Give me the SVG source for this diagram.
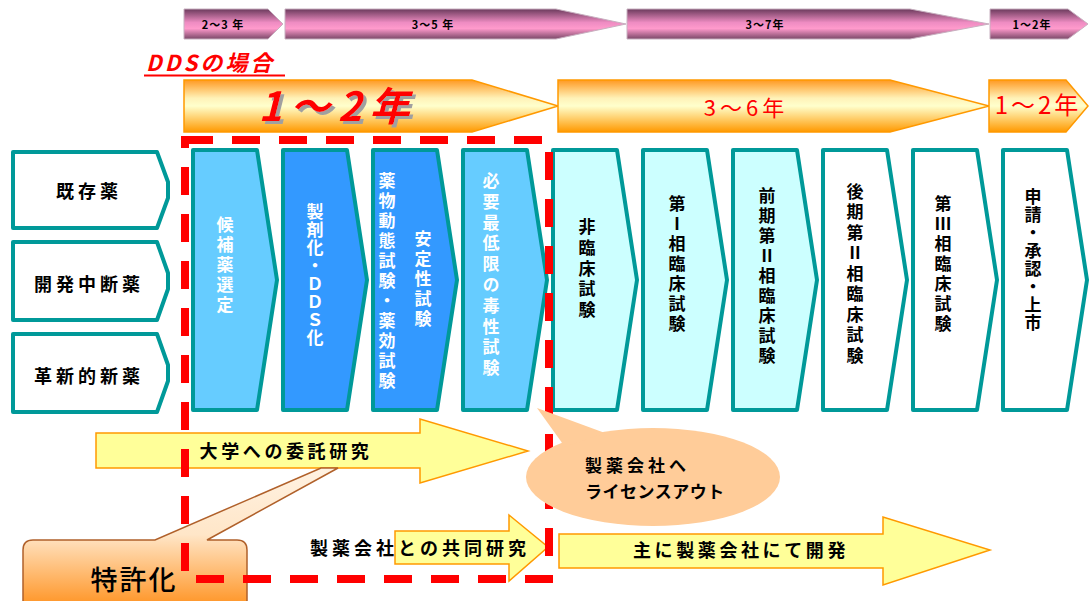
<svg xmlns="http://www.w3.org/2000/svg" width="1089" height="601" viewBox="0 0 1089 601">
<defs>
<linearGradient id="pink" x1="0" y1="0" x2="0" y2="1">
<stop offset="0" stop-color="#6B3A5C"/>
<stop offset="0.45" stop-color="#EE8CC2"/>
<stop offset="0.65" stop-color="#FF9ACC"/>
<stop offset="1" stop-color="#7A4868"/>
</linearGradient>
<linearGradient id="orange" x1="0" y1="0" x2="0" y2="1">
<stop offset="0" stop-color="#FF9922"/>
<stop offset="0.35" stop-color="#FFF2B8"/>
<stop offset="0.5" stop-color="#FFFFCC"/>
<stop offset="0.75" stop-color="#FFCC66"/>
<stop offset="1" stop-color="#FF9900"/>
</linearGradient>
<linearGradient id="callout" gradientUnits="userSpaceOnUse" x1="0" y1="468" x2="0" y2="601">
<stop offset="0" stop-color="#FFF2E2"/>
<stop offset="0.5" stop-color="#FFE6C8"/>
<stop offset="1" stop-color="#FF9A30"/>
</linearGradient>
<filter id="shadow" x="-10%" y="-20%" width="130%" height="150%">
<feDropShadow dx="3" dy="3" stdDeviation="0" flood-color="#A0A0A0" flood-opacity="1"/>
</filter>
</defs>
<style>
text{font-family:"Noto Sans CJK JP","Noto Sans CJK SC",sans-serif;}
.pk{fill:url(#pink);stroke:#c8b0c0;stroke-width:1}
.or{fill:url(#orange);stroke:#FF9900;stroke-width:1.5}
.lb{fill:#fff;stroke:#009999;stroke-width:4;stroke-linejoin:round}
.tb{stroke:#009999;stroke-width:4;stroke-linejoin:round}
.v{writing-mode:vertical-rl;text-orientation:upright;text-anchor:middle;font-size:17px;font-weight:bold}
.w{fill:#fff}
.k{fill:#000}
.ya{fill:#FFFF99;stroke:#FF9900;stroke-width:1.5}
.lbl{font-size:18px;font-weight:bold;fill:#000;text-anchor:middle;dominant-baseline:central}
.yr{font-size:11px;font-weight:bold;fill:#000;text-anchor:middle;dominant-baseline:central;letter-spacing:1px}
.red{fill:#FF0000;text-anchor:middle;dominant-baseline:central}
</style>

<g id="timeline-pink">
<polygon class="pk" points="184,9 268,9 283,24 268,39 184,39"/>
<polygon class="pk" points="285,9 556,9 626,24 556,39 285,39"/>
<polygon class="pk" points="627,9 910,9 989,24 910,39 627,39"/>
<polygon class="pk" points="990,9 1068,9 1088,24 1068,39 990,39"/>
<text class="yr" x="223" y="24">2～3 年</text>
<text class="yr" x="433" y="24">3～5 年</text>
<text class="yr" x="765" y="24">3～7年</text>
<text class="yr" x="1032" y="24">1～2年</text>
</g>

<g id="dds-label">
<text x="146" y="71" font-size="22" font-style="italic" font-weight="bold" fill="#FF0000" letter-spacing="3">DDSの場合</text>
<line x1="144" y1="75.5" x2="285" y2="75.5" stroke="#FF0000" stroke-width="2"/>
</g>

<g id="timeline-orange">
<polygon class="or" points="184,80 472,80 558,106 472,132 184,132"/>
<polygon class="or" points="558,80 890,80 989,106 890,132 558,132"/>
<polygon class="or" points="989,80 1066,80 1088,106 1066,132 989,132"/>
<text class="red" x="338" y="104" font-size="40" font-style="italic" font-weight="bold" letter-spacing="8" filter="url(#shadow)">1～2年</text>
<text class="red" x="746" y="106" font-size="22" letter-spacing="4">3～6年</text>
<text class="red" x="1038" y="103" font-size="24" letter-spacing="3">1～2年</text>
</g>

<g id="src-existing">
<polygon class="lb" points="13,152 157,152 168,182 168,198 157,228 13,228"/>
<text class="lbl" x="89" y="190" letter-spacing="4">既存薬</text>
</g>
<g id="src-suspended">
<polygon class="lb" points="13,242 157,242 168,273 168,289 157,320 13,320"/>
<text class="lbl" x="89" y="283" letter-spacing="4">開発中断薬</text>
</g>
<g id="src-innovative">
<polygon class="lb" points="13,334 157,334 168,365 168,381 157,412 13,412"/>
<text class="lbl" x="89" y="375" letter-spacing="4">革新的新薬</text>
</g>

<g id="step1">
<polygon class="tb" fill="#66CCFF" points="193,150 257,150 277,280 257,410 193,410"/>
<text class="v w" x="225" y="266" letter-spacing="3">候補薬選定</text>
</g>
<g id="step2">
<polygon class="tb" fill="#3399FF" points="283,150 347,150 367,280 347,410 283,410"/>
<text class="v w" x="315" y="275" letter-spacing="1">製剤化・ＤＤＳ化</text>
</g>
<g id="step3">
<polygon class="tb" fill="#3399FF" points="373,150 437,150 457,280 437,410 373,410"/>
<text class="v w" x="387" y="282" letter-spacing="3">薬物動態試験・薬効試験</text>
<text class="v w" x="423" y="280" letter-spacing="3">安定性試験</text>
</g>
<g id="step4">
<polygon class="tb" fill="#66CCFF" points="463,150 527,150 547,280 527,410 463,410"/>
<text class="v w" x="491" y="276" letter-spacing="3.8">必要最低限の毒性試験</text>
</g>
<g id="step5">
<polygon class="tb" fill="#CCFFFF" points="553,150 617,150 637,280 617,410 553,410"/>
<text class="v k" x="587" y="270" letter-spacing="3.8">非臨床試験</text>
</g>
<g id="step6">
<polygon class="tb" fill="#CCFFFF" points="643,150 707,150 727,280 707,410 643,410"/>
<text class="v k" x="677" y="265" letter-spacing="3">第Ⅰ相臨床試験</text>
</g>
<g id="step7">
<polygon class="tb" fill="#CCFFFF" points="733,150 797,150 817,280 797,410 733,410"/>
<text class="v k" x="767" y="277" letter-spacing="3">前期第Ⅱ相臨床試験</text>
</g>
<g id="step8">
<polygon class="tb" fill="#FFFFFF" points="823,150 887,150 907,280 887,410 823,410"/>
<text class="v k" x="855" y="275" letter-spacing="3.5">後期第Ⅱ相臨床試験</text>
</g>
<g id="step9">
<polygon class="tb" fill="#FFFFFF" points="913,150 977,150 997,280 977,410 913,410"/>
<text class="v k" x="943" y="265" letter-spacing="3">第Ⅲ相臨床試験</text>
</g>
<g id="step10">
<polygon class="tb" fill="#FFFFFF" points="1003,150 1067,150 1087,280 1067,410 1003,410"/>
<text class="v k" x="1033" y="260" letter-spacing="1">申請・承認・上市</text>
</g>

<g id="connectors">
<path class="ya" d="M96,433 H420 V419 L528,451 L420,483 V468 H96 Z"/>
<path class="ya" d="M395,531 H509 V515 L548,547 L509,581 V564 H395 Z"/>
<path class="ya" d="M559,534 H883 V517 L990,550 L883,585 V568 H559 Z"/>
</g>

<g id="patent-callout">
<path d="M33,540 H155 L321,468 L338,468 L207,540 H237 Q247,540 247,550 V612 H23 V550 Q23,540 33,540 Z" fill="url(#callout)" stroke="#B0602A" stroke-width="1.5"/>
<text x="134" y="578" font-size="27" font-weight="500" fill="#000" text-anchor="middle" dominant-baseline="central" letter-spacing="2">特許化</text>
</g>

<g id="dds-scope">
<path d="M185,140 H549 V579 H185 Z" fill="none" stroke="#FF0000" stroke-width="8" stroke-dasharray="28 19"/>
</g>

<g id="license-callout">
<ellipse cx="653" cy="477" rx="127" ry="49" fill="#FFCC99"/>
<polygon points="537,408 605,433 565,447" fill="#FFCC99"/>
<text x="585" y="464" font-size="17" font-weight="bold" fill="#000" dominant-baseline="central" letter-spacing="4">製薬会社へ</text>
<text x="585" y="490" font-size="17" font-weight="bold" fill="#000" dominant-baseline="central" letter-spacing="0.5">ライセンスアウト</text>
</g>

<g id="arrow-labels">
<text class="lbl" x="286" y="450" letter-spacing="3.6">大学への委託研究</text>
<text class="lbl" x="420" y="547" letter-spacing="4">製薬会社との共同研究</text>
<text class="lbl" x="741" y="549" letter-spacing="3.6">主に製薬会社にて開発</text>
</g>
</svg>
